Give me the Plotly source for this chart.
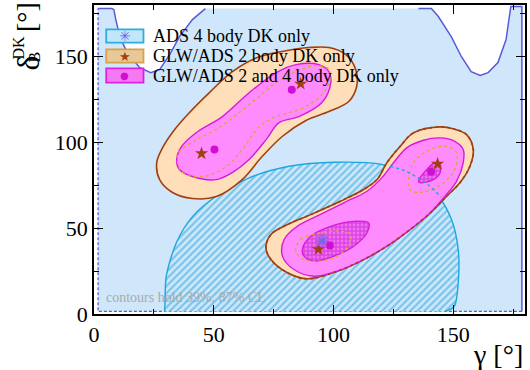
import plotly.graph_objects as go

# ---------------- data (degrees) ----------------
# ADS 4-body 87% CL region: upper boundary (left dip / right dip), rest follows frame
ads4_left_x = [1.7, 7.5, 8.3, 9.1, 10.8, 13.7, 19.1, 23.7, 27.4, 31.6, 35.7, 41.1, 46.5]
ads4_left_y = [177.9, 177.9, 177.3, 171.5, 161.6, 152.6, 143.5, 140.6, 142.4, 151.1, 161.6, 171.5, 177.9]
ads4_right_x = [135.5, 140.9, 143.8, 149.2, 153.4, 157.5, 161.3, 164.6, 168.7, 172.1, 173.7, 174.1, 178.7, 178.7]
ads4_right_y = [177.9, 177.9, 173.3, 161.6, 150.0, 141.2, 138.9, 140.6, 146.5, 159.9, 175.6, 179.1, 179.1, 1.5]
ads4_edge_x = [178.7, 1.7, 1.7]
ads4_edge_y = [1.5, 1.5, 177.9]

# ADS 4-body 39% CL region (hatched)
ads4_in_x = [29.5, 29.6, 30.2, 34.4, 41.3, 51.0, 64.8, 81.5, 100.9, 120.2, 134.1, 143.8, 149.3, 152.1, 152.1, 150.5, 146.6]
ads4_in_y = [1.5, 4.5, 22.0, 41.5, 57.0, 68.6, 79.3, 86.1, 88.4, 87.1, 80.3, 68.6, 55.0, 37.6, 18.2, 4.5, 1.5]
ads4_in_dash_x = [123.7, 129.0, 134.1, 139.5, 145.0]
ads4_in_dash_y = [86.0, 83.9, 80.3, 75.3, 68.0]

# GLW/ADS 2-body 87% CL (two islands)
glw2_a_x = [26.2, 28.7, 33.7, 39.9, 48.2, 57.8, 68.2, 78.6, 89.8, 98.1, 105.2, 109.3, 109.7, 106.4, 98.1, 88.5, 78.6, 70.2, 61.9, 51.1, 41.1, 32.8, 27.4]
glw2_a_y = [88.2, 97.0, 107.5, 117.4, 129.0, 141.2, 149.4, 152.9, 155.2, 155.2, 151.1, 142.4, 132.5, 123.8, 117.9, 112.7, 103.4, 91.7, 78.3, 68.4, 67.3, 70.8, 78.3]
glw2_b_x = [144.5, 133.4, 127.9, 122.3, 118.2, 112.6, 102.9, 90.5, 80.8, 73.9, 71.8, 73.9, 80.8, 89.1, 101.5, 112.6, 122.3, 132.0, 140.4, 147.3, 152.8, 157.0, 158.4, 155.6, 150.0]
glw2_b_y = [109.0, 105.5, 97.7, 88.1, 78.3, 72.5, 65.7, 57.9, 52.1, 46.3, 38.6, 31.7, 24.0, 20.5, 24.9, 31.7, 39.5, 49.2, 58.9, 68.6, 76.4, 86.1, 95.8, 104.5, 107.9]

# GLW/ADS 2-body 39% CL (dashed)
glw2_in_a_x = [34.9, 37.0, 45.3, 55.3, 61.9, 69.0, 76.1, 85.6, 93.9, 98.1, 98.1, 92.7, 84.4, 76.1, 69.0, 60.7, 51.1, 42.8]
glw2_in_a_y = [92.9, 82.4, 80.1, 85.9, 95.8, 109.2, 115.0, 119.1, 126.1, 134.8, 142.4, 144.7, 141.2, 134.8, 126.7, 117.4, 107.5, 101.6]
glw2_in_b_x = [84.2, 86.3, 94.6, 102.9, 107.1, 106.4, 101.5, 94.6, 87.7]
glw2_in_b_y = [36.6, 43.4, 47.3, 48.2, 46.3, 39.5, 33.7, 30.8, 31.7]
glw2_in_c_x = [131.3, 133.4, 140.4, 147.3, 151.4, 150.7, 145.9, 139.0, 132.7]
glw2_in_c_y = [75.4, 88.1, 95.8, 97.7, 93.9, 84.2, 76.4, 71.5, 71.5]

# GLW/ADS 2+4-body 87% CL (magenta)
comb_a_x = [34.5, 36.6, 42.8, 53.6, 64.8, 76.1, 84.4, 93.9, 98.1, 98.9, 95.2, 85.6, 77.3, 71.9, 64.8, 57.8, 51.1, 41.1, 35.7]
comb_a_y = [90.0, 97.6, 105.7, 115.0, 128.9, 140.6, 145.3, 145.3, 141.2, 134.8, 123.2, 115.0, 111.5, 101.6, 90.0, 82.4, 78.3, 80.1, 84.2]
comb_b_x = [144.5, 137.6, 130.6, 125.1, 120.2, 114.0, 104.3, 94.6, 84.9, 79.4, 78.7, 83.5, 91.9, 101.5, 112.6, 122.3, 132.0, 140.4, 146.6, 151.4, 154.2, 154.2, 150.7]
comb_b_y = [102.6, 101.2, 96.8, 88.1, 79.3, 71.5, 64.8, 58.0, 51.1, 43.4, 33.7, 25.9, 22.0, 24.9, 31.7, 39.5, 49.2, 58.9, 68.6, 77.3, 88.1, 95.8, 100.6]

# GLW/ADS 2+4-body 39% CL (cross-hatched)
comb_in_a_x = [87.0, 90.5, 98.8, 108.5, 114.7, 114.0, 108.5, 100.2, 91.9, 87.7]
comb_in_a_y = [37.6, 45.3, 51.1, 54.0, 53.1, 47.3, 39.5, 33.7, 30.8, 33.7]
comb_in_b_x = [135.5, 139.0, 142.4, 144.5, 144.5, 141.7, 136.2]
comb_in_b_y = [77.3, 84.2, 88.1, 87.2, 82.2, 78.3, 76.4]

# best-fit points
ads4_best_x = [95.3]
ads4_best_y = [42.4]
glw2_best_x = [44.9, 86.3, 93.7, 143.5]
glw2_best_y = [93.5, 134.1, 37.6, 87.5]
comb_best_x = [50.3, 82.6, 98.5, 140.8]
comb_best_y = [95.8, 130.7, 39.9, 82.8]

x_ticks = [0, 50, 100, 150]
y_ticks = [0, 50, 100, 150]
legend_labels = ["ADS 4 body DK only", "GLW/ADS 2 body DK only", "GLW/ADS 2 and 4 body DK only"]

# ---------------- styles ----------------
BLUE_FILL = "#d0e6fa"
BLUE_LINE = "#5a5ad8"
CYAN = "#1ea6de"
ORANGE_FILL = "#ffdfba"
BROWN = "#a04010"
MAG_FILL = "#ff8cff"
MAG_LINE = "#d81ad8"
GOLD = "#d9a53a"
SERIF = "Liberation Serif"


def closed(xs, ys):
    return list(xs) + [xs[0]], list(ys) + [ys[0]]


fig = go.Figure()

# ADS 4-body 87% region
px_, py_ = closed(ads4_left_x + ads4_right_x + ads4_edge_x, ads4_left_y + ads4_right_y + ads4_edge_y)
fig.add_trace(go.Scatter(x=px_, y=py_, mode="lines", fill="toself", fillcolor=BLUE_FILL,
                         line=dict(width=0), hoverinfo="skip", showlegend=False))
fig.add_trace(go.Scatter(x=ads4_left_x + [None] + ads4_right_x, y=ads4_left_y + [None] + ads4_right_y,
                         mode="lines", line=dict(color=BLUE_LINE, width=1.5), showlegend=False))
fig.add_trace(go.Scatter(x=ads4_edge_x, y=ads4_edge_y, mode="lines",
                         line=dict(color=BLUE_LINE, width=1.3, dash="3px,2px"), showlegend=False))

# ADS 4-body 39% hatched region
fig.add_trace(go.Scatter(x=ads4_in_x, y=ads4_in_y, mode="lines", fill="toself",
                         fillcolor=BLUE_FILL,
                         fillpattern=dict(shape="/", fgcolor=CYAN, bgcolor=BLUE_FILL, size=5, solidity=0.45),
                         line=dict(color=CYAN, width=1.4, shape="spline", smoothing=0.8), showlegend=False))

# GLW/ADS 2 body 87%
for xs, ys in [(glw2_a_x, glw2_a_y), (glw2_b_x, glw2_b_y)]:
    cx, cy = closed(xs, ys)
    fig.add_trace(go.Scatter(x=cx, y=cy, mode="lines", fill="toself", fillcolor=ORANGE_FILL,
                             line=dict(color=BROWN, width=1.6, shape="spline", smoothing=1.0), showlegend=False))

# Combined 87%
for xs, ys in [(comb_a_x, comb_a_y), (comb_b_x, comb_b_y)]:
    cx, cy = closed(xs, ys)
    fig.add_trace(go.Scatter(x=cx, y=cy, mode="lines", fill="toself", fillcolor=MAG_FILL,
                             line=dict(color=MAG_LINE, width=1.4, shape="spline", smoothing=1.0), showlegend=False))

# brown dotted outline over the lower island
cx, cy = closed(glw2_b_x, glw2_b_y)
fig.add_trace(go.Scatter(x=cx, y=cy, mode="lines",
                         line=dict(color=BROWN, width=1.6, dash="dot", shape="spline", smoothing=1.0), showlegend=False))

# Combined 39% cross-hatched
for xs, ys in [(comb_in_a_x, comb_in_a_y), (comb_in_b_x, comb_in_b_y)]:
    cx, cy = closed(xs, ys)
    fig.add_trace(go.Scatter(x=cx, y=cy, mode="lines", fill="toself", fillcolor="#ee66ee",
                             fillpattern=dict(shape="+", fgcolor="#b800c4", bgcolor="#f070f0", size=4, solidity=0.45),
                             line=dict(color=MAG_LINE, width=1.3, shape="spline", smoothing=1.0), showlegend=False))

# GLW/ADS 2 body 39% dashed
for xs, ys in [(glw2_in_a_x, glw2_in_a_y), (glw2_in_b_x, glw2_in_b_y), (glw2_in_c_x, glw2_in_c_y)]:
    cx, cy = closed(xs, ys)
    fig.add_trace(go.Scatter(x=cx, y=cy, mode="lines",
                             line=dict(color=GOLD, width=1.4, dash="3px,3px", shape="spline", smoothing=1.0),
                             showlegend=False))

# cyan dashed continuation
fig.add_trace(go.Scatter(x=ads4_in_dash_x, y=ads4_in_dash_y, mode="lines",
                         line=dict(color=CYAN, width=1.5, dash="3px,3px", shape="spline"), showlegend=False))

# best fit markers
fig.add_trace(go.Scatter(x=glw2_best_x, y=glw2_best_y, mode="markers",
                         marker=dict(symbol="star", size=10, color=BROWN, line=dict(width=0)), showlegend=False))
fig.add_trace(go.Scatter(x=comb_best_x, y=comb_best_y, mode="markers",
                         marker=dict(symbol="circle", size=8, color="#d010d0", line=dict(width=0)), showlegend=False))
fig.add_trace(go.Scatter(x=ads4_best_x, y=ads4_best_y, mode="markers",
                         marker=dict(symbol="asterisk-open", size=11, color="#6c6ce6",
                                     line=dict(width=1.4, color="#6c6ce6")), showlegend=False))

# ---------------- manual legend ----------------
box_styles = [("#c4e6fa", "#2aaee0"), ("#e8c898", "#d8a048"), ("#f47af4", "#e020e0")]
box_ys = [(0.9214, 0.8780), (0.8566, 0.8133), (0.7951, 0.7485)]
sym = [("✳", "#6a6ae0", 14), ("★", BROWN, 13), ("●", "#d010d0", 10)]
shapes = []
annotations = []
for (fc, lc), (y1, y0), (s, sc, ss), lab in zip(box_styles, box_ys, sym, legend_labels):
    shapes.append(dict(type="rect", xref="paper", yref="paper", x0=0.0284, x1=0.1148, y0=y0, y1=y1,
                       fillcolor=fc, line=dict(color=lc, width=1.8), layer="above"))
    yc = (y0 + y1) / 2
    annotations.append(dict(xref="paper", yref="paper", x=0.0716, y=yc, text=s, showarrow=False,
                            font=dict(family="DejaVu Sans", size=ss, color=sc), xanchor="center", yanchor="middle"))
    annotations.append(dict(xref="paper", yref="paper", x=0.1316, y=yc, text=lab, showarrow=False,
                            font=dict(family=SERIF, size=18, color="black"), xanchor="left", yanchor="middle"))

annotations.append(dict(xref="paper", yref="paper", x=0.0231, y=0.0518, text="contours hold 39%, 87% CL",
                        showarrow=False, font=dict(family=SERIF, size=14, color="#aaaaaa"),
                        xanchor="left", yanchor="middle"))

# axis titles
annotations.append(dict(xref="paper", yref="paper", x=1.0, y=0, yshift=-40, text="γ [°]", showarrow=False,
                        font=dict(family=SERIF, size=28, color="black"), xanchor="right", yanchor="middle"))


def ytitle_part(text, px, py, size):
    return dict(xref="paper", yref="paper", x=0, y=1, xshift=px - 94, yshift=-(py - 5), text=text,
                showarrow=False, textangle=-90, font=dict(family=SERIF, size=size, color="black"),
                xanchor="center", yanchor="middle")


annotations.append(ytitle_part("[°]", 26.5, 17.5, 28))
annotations.append(ytitle_part("δ", 27, 63.5, 32))
annotations.append(ytitle_part("DK", 18, 47.5, 16))
annotations.append(ytitle_part("B", 34, 57.5, 16))

axis_common = dict(showgrid=False, zeroline=False, showline=True, linecolor="black", linewidth=1.5,
                   mirror="allticks", ticks="inside", ticklen=9, tickwidth=1.2, tickcolor="black",
                   tickfont=dict(family=SERIF, size=22, color="black"),
                   minor=dict(ticks="inside", ticklen=5, tickwidth=1.1, tickcolor="black", dtick=25, tick0=0))

fig.update_layout(
    width=530, height=370,
    margin=dict(l=94, r=3, t=5, b=56),
    paper_bgcolor="white", plot_bgcolor="white",
    xaxis=dict(range=[0, 180], tickvals=x_ticks, **axis_common),
    yaxis=dict(range=[0, 180], tickvals=y_ticks, **axis_common),
    shapes=shapes, annotations=annotations, showlegend=False,
)

fig.write_html("out.html", config={"displayModeBar": False},
               post_script="document.body.style.margin='0px';document.body.style.padding='0px';")
